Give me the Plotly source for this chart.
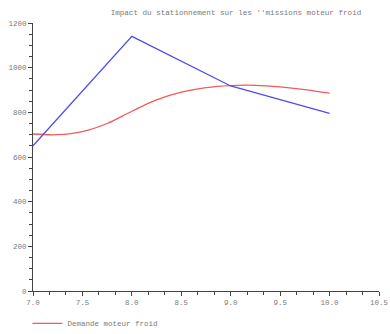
import plotly.graph_objects as go

# Data
x_red = [7.0, 7.25, 7.5, 7.75, 8.0, 8.25, 8.5, 8.75, 9.0, 9.25, 9.5, 9.75, 10.0]
y_red = [703, 700, 714, 750, 805, 856, 890, 911, 920, 921, 914, 902, 886]
x_blue = [7.0, 8.0, 9.0, 10.0]
y_blue = [650, 1140, 918, 795]
title_text = "Impact du stationnement sur les ''missions moteur froid"
red_name = "Demande moteur froid"
blue_name = "Emissions moteur froid"

FONT = "Liberation Mono, DejaVu Sans Mono, monospace"
GRAY = "#7a7a7a"

fig = go.Figure()
fig.add_trace(go.Scatter(x=x_red, y=y_red, mode="lines", name=red_name,
                         line=dict(color="#f25a5a", width=1.3, shape="spline", smoothing=1.0)))
fig.add_trace(go.Scatter(x=x_blue, y=y_blue, mode="lines", name=blue_name,
                         line=dict(color="#4d4df0", width=1.3)))

axis_common = dict(showgrid=False, zeroline=False, showline=True, linecolor="#444",
                   linewidth=1, ticks="outside", ticklen=4, tickwidth=1, tickcolor="#444",
                   tickfont=dict(family=FONT, size=7.5, color=GRAY), mirror=False)

fig.update_layout(
    width=390, height=334,
    margin=dict(l=33, r=11, t=23, b=43, autoexpand=False),
    paper_bgcolor="white", plot_bgcolor="white",
    title=dict(text=title_text, x=0.605, xanchor="center", y=0.964, yanchor="middle",
               xref="container", yref="container",
               font=dict(family=FONT, size=7.6, color=GRAY)),
    xaxis=dict(range=[7.0, 10.5], dtick=0.5, tick0=7.0, tickformat=".1f",
               minor=dict(dtick=0.5 / 3, tick0=7.0, ticklen=3, tickcolor="#444", ticks="outside"),
               **axis_common),
    yaxis=dict(range=[0, 1200], dtick=200, tick0=0,
               minor=dict(dtick=50, tick0=0, ticklen=3, tickcolor="#444", ticks="outside"),
               **axis_common),
    showlegend=True,
    legend=dict(x=-0.016, xanchor="left", y=-0.067, yanchor="top", orientation="v",
                font=dict(family=FONT, size=7.5, color=GRAY), bgcolor="rgba(0,0,0,0)",
                itemwidth=30, tracegroupgap=0),
)

fig.write_html("out.html",
               config={"displayModeBar": False},
               post_script="document.body.style.margin='0';document.body.style.overflow='hidden';")
